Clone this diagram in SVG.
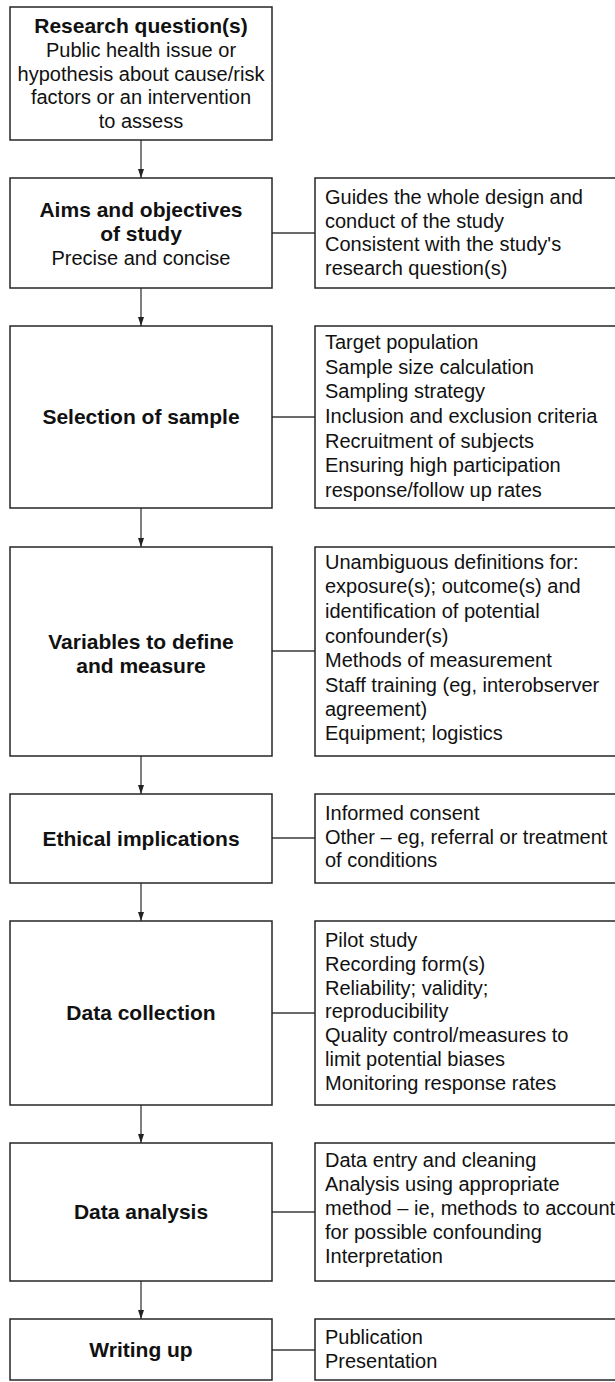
<svg xmlns="http://www.w3.org/2000/svg" width="615" height="1382" viewBox="0 0 615 1382">
<style>
.box{fill:#fff;stroke:#262626;stroke-width:1.5}
.t{font-family:"Liberation Sans",Arial,sans-serif;font-size:20px;fill:#111}
.c{text-anchor:middle}
.b{font-weight:bold;font-size:21px}
.conn line{stroke:#3a3a3a;stroke-width:1.3}
</style>
<defs>
<marker id="ah" markerUnits="userSpaceOnUse" markerWidth="9" markerHeight="6" refX="9" refY="3" orient="auto">
<path d="M0,0 L9,3 L0,6 z" fill="#222"/>
</marker>
</defs>
<rect width="615" height="1382" fill="#fff"/>

<g id="connectors" class="conn">
<line x1="141" y1="140" x2="141" y2="178" marker-end="url(#ah)"/>
<line x1="141" y1="288" x2="141" y2="326" marker-end="url(#ah)"/>
<line x1="141" y1="508" x2="141" y2="547" marker-end="url(#ah)"/>
<line x1="141" y1="756" x2="141" y2="794" marker-end="url(#ah)"/>
<line x1="141" y1="883" x2="141" y2="921" marker-end="url(#ah)"/>
<line x1="141" y1="1105" x2="141" y2="1143" marker-end="url(#ah)"/>
<line x1="141" y1="1281" x2="141" y2="1319" marker-end="url(#ah)"/>
<line x1="272" y1="233" x2="315" y2="233"/>
<line x1="272" y1="417" x2="315" y2="417"/>
<line x1="272" y1="651" x2="315" y2="651"/>
<line x1="272" y1="838" x2="315" y2="838"/>
<line x1="272" y1="1013" x2="315" y2="1013"/>
<line x1="272" y1="1212" x2="315" y2="1212"/>
<line x1="272" y1="1350" x2="315" y2="1350"/>
</g>

<g id="research">
<rect class="box" x="10" y="7" width="262" height="133"/>
<text class="t c b" x="141" y="33">Research question(s)</text>
<text class="t c" x="141" y="57">Public health issue or</text>
<text class="t c" x="141" y="81">hypothesis about cause/risk</text>
<text class="t c" x="141" y="104">factors or an intervention</text>
<text class="t c" x="141" y="128">to assess</text>
</g>

<g id="aims">
<rect class="box" x="10" y="178" width="262" height="110"/>
<text class="t c b" x="141" y="217">Aims and objectives</text>
<text class="t c b" x="141" y="241">of study</text>
<text class="t c" x="141" y="265">Precise and concise</text>
</g>
<g id="aims-notes">
<rect class="box" x="315" y="178" width="310" height="110"/>
<text class="t" x="325" y="204">Guides the whole design and</text>
<text class="t" x="325" y="228">conduct of the study</text>
<text class="t" x="325" y="251">Consistent with the study's</text>
<text class="t" x="325" y="275">research question(s)</text>
</g>

<g id="sample">
<rect class="box" x="10" y="326" width="262" height="182"/>
<text class="t c b" x="141" y="424">Selection of sample</text>
</g>
<g id="sample-notes">
<rect class="box" x="315" y="326" width="310" height="182"/>
<text class="t" x="325" y="349">Target population</text>
<text class="t" x="325" y="373.7">Sample size calculation</text>
<text class="t" x="325" y="398.3">Sampling strategy</text>
<text class="t" x="325" y="423">Inclusion and exclusion criteria</text>
<text class="t" x="325" y="447.7">Recruitment of subjects</text>
<text class="t" x="325" y="472.3">Ensuring high participation</text>
<text class="t" x="325" y="497">response/follow up rates</text>
</g>

<g id="variables">
<rect class="box" x="10" y="547" width="262" height="209"/>
<text class="t c b" x="141" y="649">Variables to define</text>
<text class="t c b" x="141" y="673">and measure</text>
</g>
<g id="variables-notes">
<rect class="box" x="315" y="547" width="310" height="209"/>
<text class="t" x="325" y="569">Unambiguous definitions for:</text>
<text class="t" x="325" y="593">exposure(s); outcome(s) and</text>
<text class="t" x="325" y="618">identification of potential</text>
<text class="t" x="325" y="643">confounder(s)</text>
<text class="t" x="325" y="667">Methods of measurement</text>
<text class="t" x="325" y="692">Staff training (eg, interobserver</text>
<text class="t" x="325" y="716">agreement)</text>
<text class="t" x="325" y="740">Equipment; logistics</text>
</g>

<g id="ethical">
<rect class="box" x="10" y="794" width="262" height="89"/>
<text class="t c b" x="141" y="846">Ethical implications</text>
</g>
<g id="ethical-notes">
<rect class="box" x="315" y="794" width="310" height="89"/>
<text class="t" x="325" y="820">Informed consent</text>
<text class="t" x="325" y="844">Other – eg, referral or treatment</text>
<text class="t" x="325" y="867">of conditions</text>
</g>

<g id="collection">
<rect class="box" x="10" y="921" width="262" height="184"/>
<text class="t c b" x="141" y="1020">Data collection</text>
</g>
<g id="collection-notes">
<rect class="box" x="315" y="921" width="310" height="184"/>
<text class="t" x="325" y="947">Pilot study</text>
<text class="t" x="325" y="970.8">Recording form(s)</text>
<text class="t" x="325" y="994.6">Reliability; validity;</text>
<text class="t" x="325" y="1018.4">reproducibility</text>
<text class="t" x="325" y="1042.2">Quality control/measures to</text>
<text class="t" x="325" y="1066">limit potential biases</text>
<text class="t" x="325" y="1090">Monitoring response rates</text>
</g>

<g id="analysis">
<rect class="box" x="10" y="1143" width="262" height="138"/>
<text class="t c b" x="141" y="1219">Data analysis</text>
</g>
<g id="analysis-notes">
<rect class="box" x="315" y="1143" width="310" height="138"/>
<text class="t" x="325" y="1167">Data entry and cleaning</text>
<text class="t" x="325" y="1191">Analysis using appropriate</text>
<text class="t" x="325" y="1215">method – ie, methods to account</text>
<text class="t" x="325" y="1239">for possible confounding</text>
<text class="t" x="325" y="1263">Interpretation</text>
</g>

<g id="writing">
<rect class="box" x="10" y="1319" width="262" height="61"/>
<text class="t c b" x="141" y="1357">Writing up</text>
</g>
<g id="writing-notes">
<rect class="box" x="315" y="1319" width="310" height="61"/>
<text class="t" x="325" y="1344">Publication</text>
<text class="t" x="325" y="1368">Presentation</text>
</g>
</svg>
